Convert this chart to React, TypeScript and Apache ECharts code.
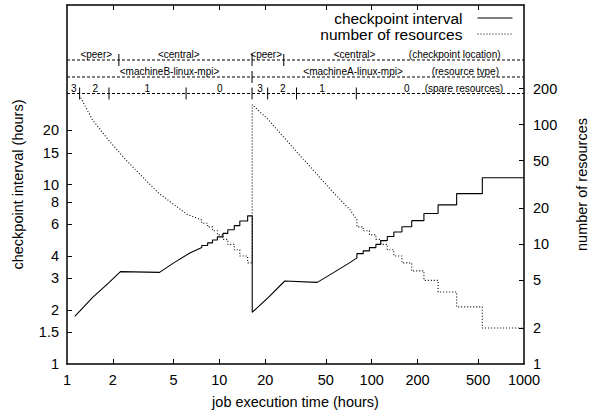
import React, { useEffect, useRef } from "react";
import * as echarts from "echarts";

// ---- data: checkpoint interval (hours) vs job execution time (hours)
const intervalTime = [
  1.125, 1.474, 1.886, 2.242, 4.05, 5.05, 6.45, 7.67,
  7.67, 8.38, 8.38, 9.02, 9.02, 9.71, 9.71, 10.56, 10.56, 11.37, 11.37, 12.53, 12.53, 13.63, 13.63, 15.34, 15.34, 16.44,
  16.44, 21.0, 26.9, 43.95, 56.2, 71.9, 80,
  80, 88, 88, 96.7, 96.7, 106.6, 106.6, 114.7, 114.7, 126.6, 126.6, 139.8, 139.8, 158, 158, 183.2, 183.2, 220.3,
  220.3, 272.9, 272.9, 361.3, 361.3, 532.6, 532.6, 1000,
];
const intervalHours = [
  1.84, 2.35, 2.84, 3.27, 3.24, 3.67, 4.17, 4.45,
  4.57, 4.57, 4.73, 4.73, 4.91, 4.91, 5.11, 5.11, 5.34, 5.34, 5.6, 5.6, 5.9, 5.9, 6.26, 6.26, 6.69, 6.69,
  1.94, 2.35, 2.9, 2.85, 3.23, 3.67, 3.9,
  4.12, 4.12, 4.27, 4.27, 4.45, 4.45, 4.64, 4.64, 4.87, 4.87, 5.13, 5.13, 5.44, 5.44, 5.82, 5.82, 6.29, 6.29,
  6.89, 6.89, 7.7, 7.7, 8.89, 8.89, 10.9, 10.9,
];

// ---- data: number of resources vs job execution time (hours)
const resourceTime = [
  1.23, 1.468, 1.886, 2.425, 3.95, 6.14, 7.67,
  7.67, 8.38, 8.38, 9.02, 9.02, 9.71, 9.71, 10.56, 10.56, 11.37, 11.37, 12.53, 12.53, 13.63, 13.63, 15.34, 15.34, 16.44,
  16.44, 21.0, 34.4, 56.2, 72, 80,
  80, 88, 88, 96.7, 96.7, 106.6, 106.6, 114.7, 114.7, 126.6, 126.6, 139.8, 139.8, 158, 158, 183.2, 183.2, 220.3,
  220.3, 272.9, 272.9, 361.3, 361.3, 532.6, 532.6, 1000,
];
const resourceCount = [
  168, 110, 73.5, 51, 27.1, 17.8, 16,
  15, 15, 14, 14, 13, 13, 12, 12, 11, 11, 10, 10, 9, 9, 8, 8, 7, 7,
  147, 110, 54, 27, 19.5, 16,
  14, 14, 13, 13, 12, 12, 11, 11, 10, 10, 9, 9, 8, 8, 7, 7, 6, 6,
  5, 5, 4, 4, 3, 3, 2, 2,
];

// ---- axis ticks / labels
const xTickValues = [2, 5, 10, 20, 50, 100, 200, 500];
const xLabelValues = [1, 2, 5, 10, 20, 50, 100, 200, 500, 1000];
const yLeftTickValues = [1.5, 2, 3, 4, 6, 8, 10, 15, 20];
const yLeftLabelValues = [1, 1.5, 2, 3, 4, 6, 8, 10, 15, 20];
const yRightTickValues = [2, 5, 10, 20, 50, 100, 200];
const yRightLabelValues = [1, 2, 5, 10, 20, 50, 100, 200];

// ---- annotation rows (times in hours)
const locationBars = [2.19, 16.4, 26.5];
const locationLabels = ["<peer>", "<central>", "<peer>", "<central>", "(checkpoint location)"];
const locationLabelTimes = [1.556, 5.42, 20.3, 77.2, 350.7];

const typeBars = [16.4];
const typeLabels = ["<machineB-linux-mpi>", "<machineA-linux-mpi>", "(resource type)"];
const typeLabelTimes = [4.71, 75.5, 412];

const spareBars = [1.21, 1.886, 6.05, 16.4, 20.76, 32.1, 79.3];
const spareLabels = ["3", "2", "1", "0", "3", "2", "1", "0", "(spare resources)"];
const spareLabelTimes = [1.109, 1.535, 3.37, 10.05, 18.5, 26.1, 47.3, 170, 403];

const FONT = '"Liberation Sans", Arial, Helvetica, sans-serif';

export default function App() {
  const ref = useRef<HTMLDivElement>(null);

  useEffect(() => {
    const chart = echarts.init(ref.current!, undefined, { renderer: "svg" });
    const zip = (xs: number[], ys: number[]) => xs.map((x, i) => [x, ys[i]]);
    const fmt = (v: number) => String(v);
    const axisLine = { show: true, lineStyle: { color: "#000", width: 1.5 } };
    const tick = (vals: number[]) => ({
      show: true,
      inside: true,
      length: 5,
      customValues: vals,
      lineStyle: { color: "#000", width: 1 },
    });
    const label = (vals: number[], margin: number) => ({
      show: true,
      customValues: vals,
      formatter: fmt,
      fontSize: 14.5,
      color: "#000",
      fontFamily: FONT,
      margin,
    });
    const nameStyle = { fontSize: 14.5, color: "#000", fontFamily: FONT };

    chart.setOption({
      animation: false,
      textStyle: { fontFamily: FONT },
      grid: { left: 67, right: 62, top: 5, bottom: 49 },
      legend: {
        orient: "vertical",
        right: 79,
        top: 5,
        align: "right",
        itemWidth: 35,
        itemHeight: 14,
        itemGap: 0,
        itemStyle: { opacity: 0, borderWidth: 0 },
        lineStyle: { width: 1 },
        textStyle: { fontSize: 15.5, color: "#000", fontFamily: FONT, padding: [0, 10, 0, 0] },
        data: ["checkpoint interval", "number of resources"],
      },
      xAxis: [
        {
          type: "log",
          min: 1,
          max: 1000,
          position: "bottom",
          name: "job execution time (hours)",
          nameLocation: "middle",
          nameGap: 30,
          nameTextStyle: nameStyle,
          axisLine,
          axisTick: tick(xTickValues),
          axisLabel: label(xLabelValues, 8),
          splitLine: { show: false },
          minorTick: { show: false },
        },
        {
          type: "log",
          min: 1,
          max: 1000,
          position: "top",
          axisLine,
          axisTick: tick(xTickValues),
          axisLabel: { show: false },
          splitLine: { show: false },
        },
      ],
      yAxis: [
        {
          type: "log",
          min: 1,
          max: 100,
          position: "left",
          name: "checkpoint interval (hours)",
          nameLocation: "middle",
          nameGap: 42,
          nameTextStyle: nameStyle,
          axisLine,
          axisTick: tick(yLeftTickValues),
          axisLabel: label(yLeftLabelValues, 8),
          splitLine: { show: false },
        },
        {
          type: "log",
          min: 1,
          max: 1000,
          position: "right",
          name: "number of resources",
          nameLocation: "middle",
          nameGap: 50,
          nameTextStyle: nameStyle,
          axisLine,
          axisTick: tick(yRightTickValues),
          axisLabel: label(yRightLabelValues, 9),
          splitLine: { show: false },
        },
      ],
      series: [
        {
          name: "checkpoint interval",
          type: "line",
          xAxisIndex: 0,
          yAxisIndex: 0,
          data: zip(intervalTime, intervalHours),
          symbol: "none",
          showSymbol: false,
          lineStyle: { color: "#000", width: 1.1, type: "solid" },
          itemStyle: { color: "#000" },
        },
        {
          name: "number of resources",
          type: "line",
          xAxisIndex: 0,
          yAxisIndex: 1,
          data: zip(resourceTime, resourceCount),
          symbol: "none",
          showSymbol: false,
          lineStyle: { color: "#000", width: 1.1, type: [1, 2] },
          itemStyle: { color: "#000" },
        },
      ],
    });

    // annotation rows (checkpoint location / resource type / spare resources)
    const px = (v: number) => chart.convertToPixel({ xAxisIndex: 0 }, v) as number;
    const left = px(1);
    const right = px(1000);
    const rows = [
      { lineY: 60, textY: 54.5, bars: locationBars, labels: locationLabels, times: locationLabelTimes },
      { lineY: 77, textY: 71, bars: typeBars, labels: typeLabels, times: typeLabelTimes },
      { lineY: 93.5, textY: 88.5, bars: spareBars, labels: spareLabels, times: spareLabelTimes },
    ];
    const graphics: any[] = [];
    rows.forEach((r) => {
      graphics.push({
        type: "line",
        silent: true,
        shape: { x1: left, y1: r.lineY, x2: right, y2: r.lineY },
        style: { stroke: "#000", lineWidth: 1, lineDash: [3, 2] },
      });
      r.bars.forEach((b) => {
        const x = px(b);
        graphics.push({
          type: "line",
          silent: true,
          shape: { x1: x, y1: r.lineY - 6, x2: x, y2: r.lineY + 6 },
          style: { stroke: "#000", lineWidth: 1 },
        });
      });
      r.labels.forEach((t, i) => {
        graphics.push({
          type: "text",
          silent: true,
          x: px(r.times[i]),
          y: r.textY,
          style: {
            text: t,
            fill: "#000",
            font: `10px ${FONT}`,
            textAlign: "center",
            textVerticalAlign: "middle",
          },
        });
      });
    });
    chart.setOption({ graphic: graphics });

    return () => chart.dispose();
  }, []);

  return (
    <div
      ref={ref}
      style={{ position: "fixed", left: 0, top: 0, width: 597, height: 414, background: "#fff" }}
    />
  );
}
